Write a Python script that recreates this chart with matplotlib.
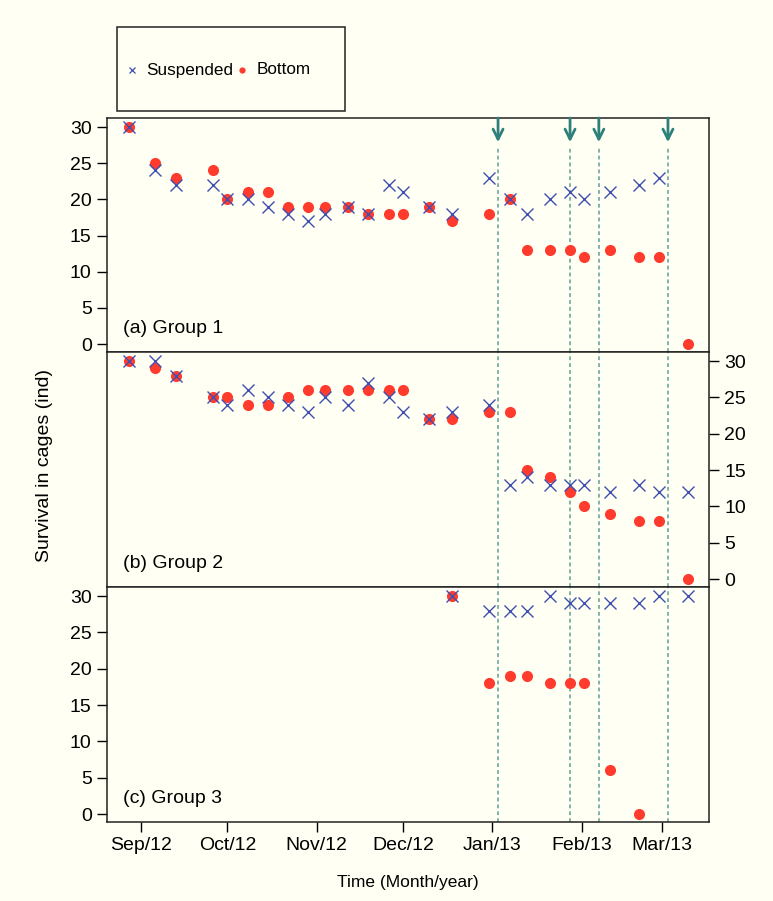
import numpy as np
import pandas as pd
import matplotlib
matplotlib.use('Agg')
import matplotlib.pyplot as plt
import matplotlib.dates as mdates
from matplotlib.patches import Rectangle
from matplotlib.lines import Line2D

plt.rcParams['font.family'] = ['Liberation Sans', 'DejaVu Sans']

nan = np.nan

# sampling dates
dates = pd.to_datetime([
    '2012-08-28', '2012-09-06', '2012-09-13', '2012-09-26', '2012-10-01',
    '2012-10-08', '2012-10-15', '2012-10-22', '2012-10-29', '2012-11-04',
    '2012-11-12', '2012-11-19', '2012-11-26', '2012-12-01', '2012-12-10',
    '2012-12-18', '2012-12-31', '2013-01-07', '2013-01-13', '2013-01-21',
    '2013-01-28', '2013-02-02', '2013-02-11', '2013-02-21', '2013-02-28',
    '2013-03-10'])

g1_susp = [30, 24, 22, 22, 20, 20, 19, 18, 17, 18, 19, 18, 22, 21, 19, 18, 23,
           20, 18, 20, 21, 20, 21, 22, 23, nan]
g1_bot = [30, 25, 23, 24, 20, 21, 21, 19, 19, 19, 19, 18, 18, 18, 19, 17, 18,
          20, 13, 13, 13, 12, 13, 12, 12, 0]

g2_susp = [30, 30, 28, 25, 24, 26, 25, 24, 23, 25, 24, 27, 25, 23, 22, 23, 24,
           13, 14, 13, 13, 13, 12, 13, 12, 12]
g2_bot = [30, 29, 28, 25, 25, 24, 24, 25, 26, 26, 26, 26, 26, 26, 22, 22, 23,
          23, 15, 14, 12, 10, 9, 8, 8, 0]

g3_susp = [nan] * 15 + [30, 28, 28, 28, 30, 29, 29, 29, 29, 30, 30]
g3_bot = [nan] * 15 + [30, 18, 19, 19, 18, 18, 18, 6, 0, nan, nan]

# event arrows
events = pd.to_datetime(['2013-01-03', '2013-01-28', '2013-02-07', '2013-03-03'])

groups = [('(a) Group 1', g1_susp, g1_bot),
          ('(b) Group 2', g2_susp, g2_bot),
          ('(c) Group 3', g3_susp, g3_bot)]

BG = '#FFFFF3'
RED = '#FF3B2E'
BLUE = '#3F4FB0'
TEAL = '#2E807A'
DASH = '#5E9F98'

fig = plt.figure(figsize=(7.73, 9.01), dpi=100, facecolor=BG)

W, H = 773, 901
left, right = 107, 709
tops = [118, 352, 587]
bots = [352, 587, 822]
xlim = (pd.Timestamp('2012-08-20 05:00'), pd.Timestamp('2013-03-17 06:00'))
ylim = (-1.1, 31.25)

axes = []
for i, (label, susp, bot) in enumerate(groups):
    ax = fig.add_axes([left / W, 1 - bots[i] / H, (right - left) / W,
                       (bots[i] - tops[i]) / H])
    ax.set_facecolor(BG)
    ax.plot(dates, bot, 'o', color=RED, ms=8, mec='none', zorder=3)
    ax.plot(dates, susp, 'x', color=BLUE, ms=9, mew=1.0, zorder=4)
    ax.set_xlim(*xlim)
    ax.set_ylim(*ylim)
    ax.set_yticks(range(0, 31, 5))
    ax.tick_params(labelsize=14, length=7, width=1, direction='out', pad=4)
    if i == 1:
        ax.yaxis.tick_right()
    ax.text(0.027, 0.10, label, transform=ax.transAxes, fontsize=14,
            ha='left', va='center')
    for s in ax.spines.values():
        s.set_color('#222222')
        s.set_linewidth(1.1)

    for ev in events:
        if i == 0:
            ax.vlines(ev, ylim[0], 27.4, colors=DASH, lw=1.1,
                      linestyles=(0, (2.5, 2)), zorder=1)
            ax.annotate('', xy=(ev, 27.9), xytext=(ev, ylim[1]),
                        arrowprops=dict(arrowstyle='->', color=TEAL, lw=2,
                                        mutation_scale=18, shrinkA=0, shrinkB=0))
        else:
            ax.vlines(ev, ylim[0], ylim[1], colors=DASH, lw=1.1,
                      linestyles=(0, (2.5, 2)), zorder=1)
    axes.append(ax)

for ax in axes[:2]:
    ax.tick_params(axis='x', bottom=False, labelbottom=False)

axes[2].xaxis.set_major_locator(mdates.MonthLocator())
axes[2].xaxis.set_major_formatter(mdates.DateFormatter('%b/%y'))

fig.text(45 / W, 1 - 466 / H, 'Survival in cages (ind)', rotation=90,
         fontsize=14, ha='center', va='center')
fig.text(408 / W, 1 - 882 / H, 'Time (Month/year)', fontsize=12.5,
         ha='center', va='center')

# legend box
fig.add_artist(Rectangle((117 / W, 1 - 111 / H), 228 / W, 84 / H,
                         transform=fig.transFigure, fill=False,
                         edgecolor='#222222', lw=1.1))
fig.add_artist(Line2D([131.5 / W], [1 - 70 / H], marker='x', color=BLUE,
                      ms=5, mew=0.9, transform=fig.transFigure))
fig.text(146.5 / W, 1 - 70 / H, 'Suspended', fontsize=12.3, va='center')
fig.add_artist(Line2D([242 / W], [1 - 70 / H], marker='o', color=RED,
                      ms=4.5, mec='none', transform=fig.transFigure))
fig.text(256.5 / W, 1 - 70 / H, 'Bottom', fontsize=12.3, va='center')

fig.savefig('out.png', dpi=100, facecolor=BG)
